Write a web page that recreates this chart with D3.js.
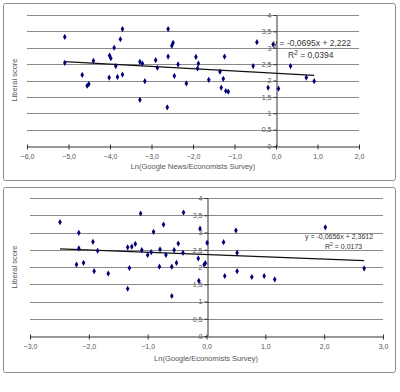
<!DOCTYPE html>
<html>
<head>
<meta charset="utf-8">
<script src="https://cdn.jsdelivr.net/npm/d3@7"></script>
<style>
body { margin:0; background:#fff; }
svg { display:block; font-family:"Liberation Sans", Arial, sans-serif; }
</style>
</head>
<body>
<svg width="400" height="392"></svg>
<script>
// top chart: Ln(Google News / Economists Survey) vs liberal score
var topX = [-5.09,-5.09,-4.67,-4.55,-4.51,-4.40,-4.02,-4.01,-3.98,-3.90,-3.86,-3.82,-3.75,-3.70,-3.70,
            -3.28,-3.28,-3.22,-3.16,-2.90,-2.86,-2.62,-2.60,-2.60,-2.51,-2.48,-2.45,-2.36,-2.16,
            -1.93,-1.87,-1.89,-1.62,-1.35,-1.32,-1.27,-1.24,-1.21,-1.15,-0.55,-0.46,-0.19,-0.07,
            0.06,0.35,0.73,0.92];
var topY = [3.33,2.54,2.17,1.84,1.89,2.60,2.09,2.76,2.68,3.00,2.44,2.11,3.26,3.57,2.18,
            2.57,1.41,2.52,1.98,2.62,2.39,1.18,3.57,2.73,3.06,3.15,2.14,2.49,1.91,
            2.72,2.52,2.37,2.02,2.27,1.78,2.05,2.73,1.68,1.66,2.44,3.17,1.78,3.10,
            1.75,2.44,2.09,1.98];
var topTrend = {slope:-0.0695, icept:2.222};
var topXTicks = [-6,-5,-4,-3,-2,-1,0,1,2];

// bottom chart: Ln(Google / Economists Survey) vs liberal score
var botX = [-2.49,-2.17,-2.17,-2.21,-2.09,-1.93,-1.85,-1.91,-1.67,-1.12,-1.34,-1.27,-1.21,-1.31,-1.34,
            -1.10,-1.00,-0.90,-0.94,-0.80,-0.79,-0.73,-0.69,-0.59,-0.59,-0.55,-0.51,-0.48,-0.40,-0.39,
            -0.14,-0.13,-0.11,-0.04,-0.02,0.01,0.29,0.31,0.50,0.52,0.52,0.77,0.98,1.16,2.02,2.68];
var botY = [3.30,2.99,2.54,2.07,2.12,2.73,2.47,1.88,1.81,3.55,2.57,2.59,2.67,1.97,1.37,
            2.49,2.35,3.02,2.43,2.01,2.51,3.23,2.35,1.16,2.01,2.49,2.12,2.68,2.41,3.58,
            2.25,1.60,3.11,2.07,2.11,2.70,2.72,1.74,3.06,2.41,1.88,1.71,1.74,1.64,3.15,1.96];
var botTrend = {slope:-0.0656, icept:2.3612};
var botXTicks = [-3,-2,-1,0,1,2,3];

var yTicks = [0,0.5,1,1.5,2,2.5,3,3.5,4];
var yTitle = "Liberal score";

var svg = d3.select("svg");
var comma = function(d){ return String(d).replace(".", ","); };
var comma1 = function(d){ return d3.format(".1f")(d).replace(".", ",").replace("-", "-"); };

var drawChart = function(opt)
{
    var g = svg.append("g");

    g.append("rect")
    .attr("x", opt.box[0]).attr("y", opt.box[1])
    .attr("width", opt.box[2]).attr("height", opt.box[3])
    .attr("rx", 2)
    .attr("fill", "#fff").attr("stroke", "#8c8c8c").attr("stroke-width", 1);

    var xScale = d3.scaleLinear().domain(opt.xDomain).range(opt.xRange);
    var yScale = d3.scaleLinear().domain([0, 4]).range(opt.yRange);

    // gridlines
    g.selectAll(".grid")
    .data(yTicks.filter(function(d){ return d > 0; }))
    .enter()
    .append("line")
    .attr("x1", xScale(opt.xDomain[0]))
    .attr("x2", xScale(opt.xDomain[1]))
    .attr("y1", function(d){ return Math.round(yScale(d)) + 0.5; })
    .attr("y2", function(d){ return Math.round(yScale(d)) + 0.5; })
    .attr("stroke", "#8a8a8a");

    // x axis
    var xAxis = d3.axisBottom(xScale).tickValues(opt.xTicks).tickFormat(comma1)
        .tickSizeInner(3).tickSizeOuter(0).tickPadding(5);
    g.append("g")
    .attr("transform", "translate(0," + (Math.round(yScale(0)) + 0.5) + ")")
    .call(xAxis)
    .call(function(a){
        a.select(".domain").attr("stroke", "#333");
        a.selectAll(".tick line").attr("stroke", "#333").attr("y1", -2);
        a.selectAll("text").attr("font-size", 7).attr("fill", "#555")
         .attr("font-family", "Liberation Sans, Arial, sans-serif");
    });

    // y axis crossing at x = 0
    var yAxis = d3.axisLeft(yScale).tickValues(yTicks).tickFormat(comma)
        .tickSizeInner(3).tickSizeOuter(0).tickPadding(2);
    g.append("g")
    .attr("transform", "translate(" + (Math.round(xScale(0)) + 0.5) + ",0)")
    .call(yAxis)
    .call(function(a){
        a.select(".domain").attr("stroke", "#333");
        a.selectAll(".tick line").attr("stroke", "#333");
        a.selectAll("text").attr("font-size", 7).attr("fill", "#555")
         .attr("font-family", "Liberation Sans, Arial, sans-serif");
    });

    // trend line
    var ext = d3.extent(opt.xs);
    var trend = ext.map(function(x){ return [x, opt.trend.slope * x + opt.trend.icept]; });
    g.append("path")
    .datum(trend)
    .attr("d", d3.line()
        .x(function(p){ return xScale(p[0]); })
        .y(function(p){ return yScale(p[1]); }))
    .attr("stroke", "#111").attr("stroke-width", 1.2).attr("fill", "none");

    // points
    g.selectAll(".pt")
    .data(opt.xs.map(function(x, i){ return [x, opt.ys[i]]; }))
    .enter()
    .append("path")
    .attr("d", d3.symbol().type(d3.symbolDiamond).size(11))
    .attr("transform", function(p){ return "translate(" + xScale(p[0]) + "," + yScale(p[1]) + ")"; })
    .attr("fill", "#00007a");

    // equation
    g.append("text")
    .attr("x", opt.eq[0]).attr("y", opt.eq[1])
    .attr("font-size", opt.eqSize).attr("fill", "#333")
    .text(opt.eqText);
    var r2 = g.append("text")
    .attr("x", opt.eq[2]).attr("y", opt.eq[3])
    .attr("font-size", opt.eqSize).attr("fill", "#333");
    r2.append("tspan").text("R");
    r2.append("tspan").attr("dy", -3).attr("font-size", opt.eqSize - 2).text("2");
    r2.append("tspan").attr("dy", 3).text(" = " + opt.r2);

    // titles
    g.append("text")
    .attr("transform", "translate(" + opt.yTitle[0] + "," + opt.yTitle[1] + ") rotate(-90)")
    .attr("text-anchor", "middle").attr("font-size", 7.5).attr("fill", "#555")
    .text(yTitle);
    g.append("text")
    .attr("x", opt.xTitle[0]).attr("y", opt.xTitle[1])
    .attr("text-anchor", "middle").attr("font-size", 7.5).attr("fill", "#555")
    .text(opt.xTitleText);
};

drawChart({
    box: [3.5, 3.5, 392, 177],
    xDomain: [-6, 2], xRange: [27, 359], yRange: [146, 15],
    xTicks: topXTicks, xs: topX, ys: topY, trend: topTrend,
    eq: [273, 46, 288, 58], eqSize: 8.5,
    eqText: "y = -0,0695x + 2,222", r2: "0,0394",
    yTitle: [17, 80], xTitle: [193, 169],
    xTitleText: "Ln(Google News/Economists Survey)"
});

drawChart({
    box: [3.5, 187.5, 392, 185],
    xDomain: [-3, 3], xRange: [30, 383], yRange: [336, 198],
    xTicks: botXTicks, xs: botX, ys: botY, trend: botTrend,
    eq: [305, 239, 325, 249], eqSize: 7,
    eqText: "y = -0,0656x + 2,3612", r2: "0,0173",
    yTitle: [17, 267], xTitle: [206, 361],
    xTitleText: "Ln(Google/Economists Survey)"
});
</script>
</body>
</html>
